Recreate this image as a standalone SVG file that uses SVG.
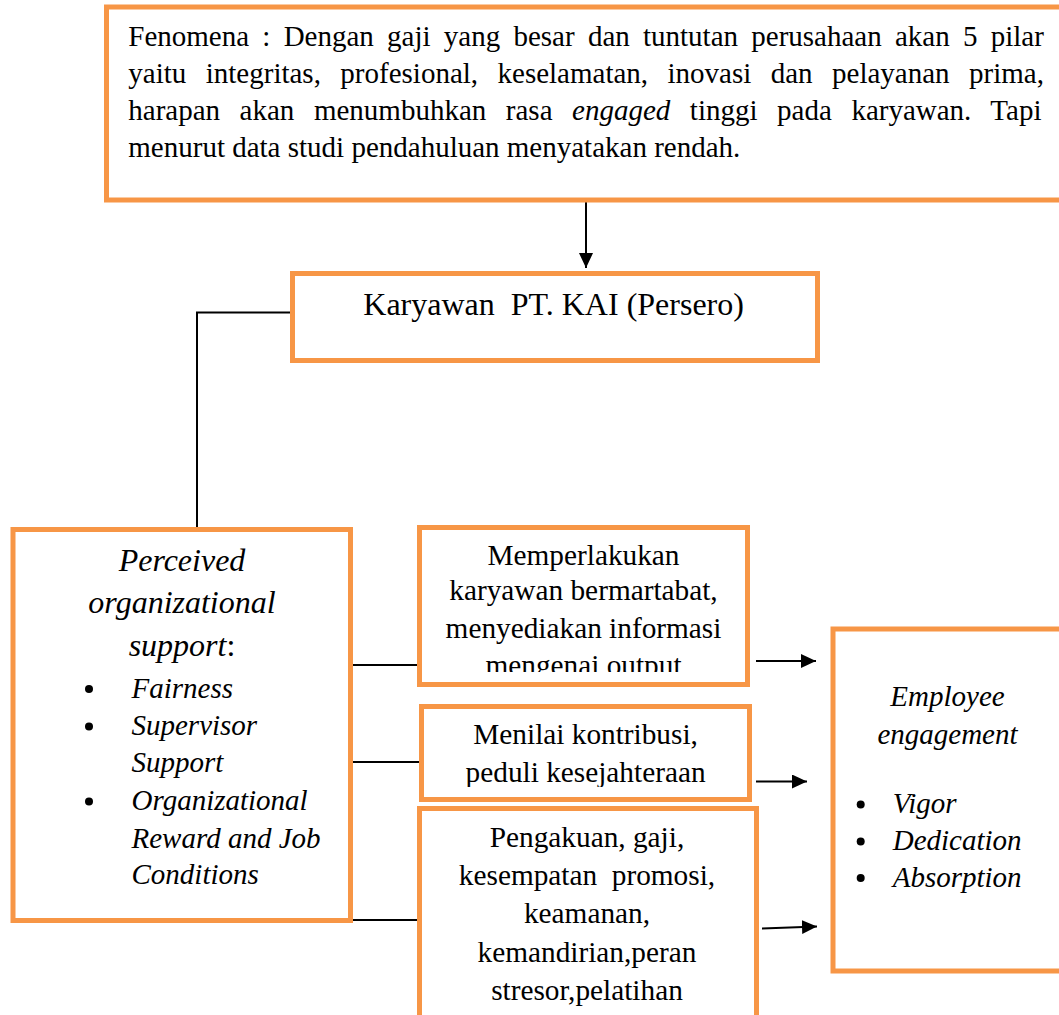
<svg xmlns="http://www.w3.org/2000/svg" width="1059" height="1015" viewBox="0 0 1059 1015">
<style>
.box{fill:#fff;stroke:#F79646;stroke-width:5}
.t{font-family:"Liberation Serif","Times New Roman",serif;fill:#000}
.i{font-style:italic}
.c{text-anchor:middle}
.ln{stroke:#000;stroke-width:2;fill:none}
</style>
<defs>
<marker id="ah" markerUnits="userSpaceOnUse" markerWidth="16" markerHeight="15" refX="15" refY="7" orient="auto">
<path d="M0,0 L15,7 L0,14 z" fill="#000"/>
</marker>
<clipPath id="clipA"><rect x="420" y="528" width="326" height="144"/></clipPath>
<clipPath id="clipB"><rect x="422" y="707" width="326" height="80"/></clipPath>
</defs>
<rect width="1059" height="1015" fill="#fff"/>

<g id="connectors">
<line class="ln" x1="586" y1="202" x2="586" y2="268" marker-end="url(#ah)"/>
<polyline class="ln" points="290,312.5 197,312.5 197,527"/>
<line class="ln" x1="347" y1="665" x2="417" y2="665"/>
<line class="ln" x1="353" y1="762" x2="419" y2="762"/>
<line class="ln" x1="345" y1="920" x2="417" y2="920"/>
<line class="ln" x1="756" y1="661" x2="816" y2="661" marker-end="url(#ah)"/>
<line class="ln" x1="756" y1="781.5" x2="807" y2="781.5" marker-end="url(#ah)"/>
<line class="ln" x1="762" y1="928.5" x2="817" y2="926.5" marker-end="url(#ah)"/>
</g>

<g id="fenomena">
<rect class="box" x="106.5" y="7" width="970" height="193"/>
<g class="t" font-size="29">
<text x="128.3" y="46" word-spacing="6">Fenomena : Dengan gaji yang besar dan tuntutan perusahaan akan 5 pilar</text>
<text x="128.3" y="83" word-spacing="12.2">yaitu integritas, profesional, keselamatan, inovasi dan pelayanan prima,</text>
<text x="128.3" y="120" word-spacing="12.3">harapan akan menumbuhkan rasa <tspan class="i">engaged</tspan> tinggi pada karyawan. Tapi</text>
<text x="128.3" y="157">menurut data studi pendahuluan menyatakan rendah.</text>
</g>
</g>

<g id="karyawan">
<rect class="box" x="292.5" y="273.5" width="525" height="87"/>
<text class="t" x="363.3" y="314.5" font-size="32" xml:space="preserve">Karyawan  PT. KAI (Persero)</text>
</g>

<g id="pos">
<rect class="box" x="13" y="529.5" width="337.5" height="391"/>
<g class="t i c" font-size="32">
<text x="182" y="570.5">Perceived</text>
<text x="182" y="613">organizational</text>
<text x="182" y="656">support<tspan font-style="normal">:</tspan></text>
</g>
<g fill="#000">
<circle cx="89" cy="689" r="4"/>
<circle cx="89" cy="726.5" r="4"/>
<circle cx="89" cy="801.5" r="4"/>
</g>
<g class="t i" font-size="29">
<text x="131.5" y="697.5">Fairness</text>
<text x="131.5" y="735">Supervisor</text>
<text x="131.5" y="772">Support</text>
<text x="131.5" y="810">Organizational</text>
<text x="131.5" y="847.5">Reward and Job</text>
<text x="131.5" y="883.5">Conditions</text>
</g>
</g>

<g id="box-a">
<rect class="box" x="419.5" y="527.5" width="328" height="157"/>
<g class="t c" font-size="29.3" clip-path="url(#clipA)">
<text x="583.5" y="564.5">Memperlakukan</text>
<text x="583.5" y="600">karyawan bermartabat,</text>
<text x="583.5" y="637.5">menyediakan informasi</text>
<text x="583.5" y="675">mengenai output</text>
</g>
</g>

<g id="box-b">
<rect class="box" x="421.5" y="706.5" width="328" height="93"/>
<g class="t c" font-size="29.3" clip-path="url(#clipB)">
<text x="585.6" y="744">Menilai kontribusi,</text>
<text x="585.6" y="781.5">peduli kesejahteraan</text>
</g>
</g>

<g id="box-c">
<rect class="box" x="419.5" y="808.5" width="337" height="230"/>
<g class="t c" font-size="29.3">
<text x="587" y="846.5">Pengakuan, gaji,</text>
<text x="587" y="885" xml:space="preserve">kesempatan  promosi,</text>
<text x="587" y="923">keamanan,</text>
<text x="587" y="961.5">kemandirian,peran</text>
<text x="587" y="1000">stresor,pelatihan</text>
</g>
</g>

<g id="engagement">
<rect class="box" x="833" y="629" width="300" height="342"/>
<g class="t i c" font-size="29">
<text x="947.5" y="706">Employee</text>
<text x="947.5" y="743.5">engagement</text>
</g>
<g fill="#000">
<circle cx="860.7" cy="804.5" r="4"/>
<circle cx="860.7" cy="841.5" r="4"/>
<circle cx="860.7" cy="878" r="4"/>
</g>
<g class="t i" font-size="29">
<text x="892.7" y="813">Vigor</text>
<text x="892.7" y="850">Dedication</text>
<text x="892.7" y="887">Absorption</text>
</g>
</g>
</svg>
